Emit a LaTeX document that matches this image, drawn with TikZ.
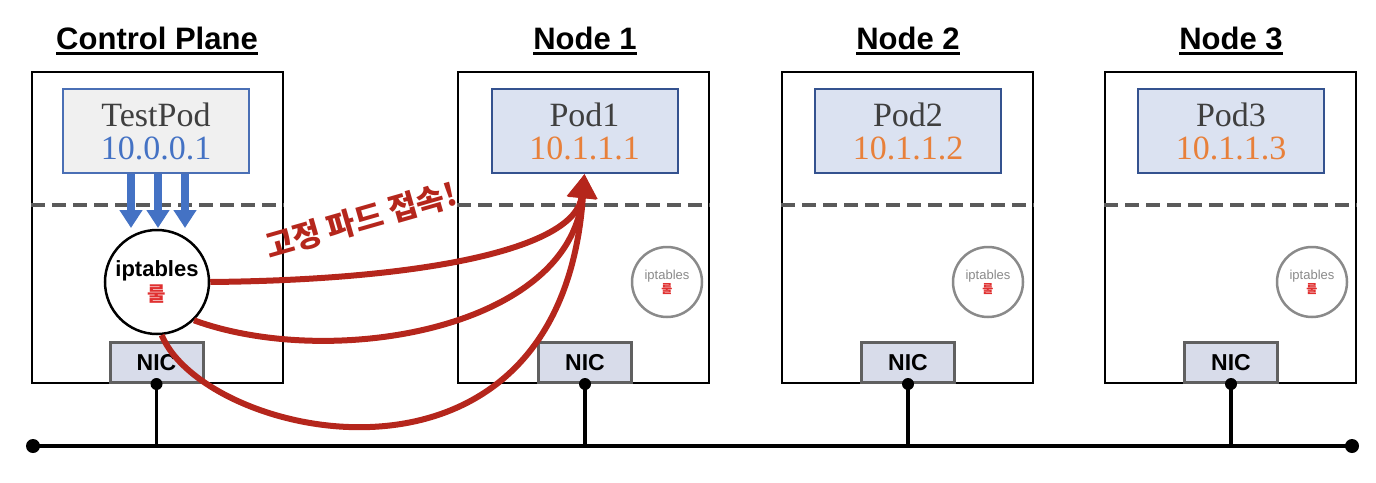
\documentclass[tikz,border=0pt]{standalone}
\usepackage{fontspec}
\setmainfont{Liberation Serif}
\setsansfont{Liberation Sans}
\newfontfamily\kr{Noto Sans CJK KR}
\usetikzlibrary{arrows.meta}
\definecolor{podtext}{HTML}{3F3F3F}
\definecolor{ipblue}{HTML}{4472C4}
\definecolor{iporange}{HTML}{E8803A}
\definecolor{tpborder}{HTML}{4A6FB5}
\definecolor{tpfill}{HTML}{F0F0F0}
\definecolor{podborder}{HTML}{34528F}
\definecolor{podfill}{HTML}{DBE2F1}
\definecolor{dashgray}{HTML}{5A5A5A}
\definecolor{nicfill}{HTML}{D8DCEA}
\definecolor{nicborder}{HTML}{606060}
\definecolor{arrowred}{HTML}{B5261C}
\definecolor{rulered}{HTML}{E03030}
\definecolor{iptgray}{HTML}{8A8A8A}
\begin{document}
\begin{tikzpicture}[x=1pt,y=-1pt,
  hostbox/.style={draw=black,line width=2pt,minimum width=251pt,minimum height=311pt,inner sep=0pt},
  podbox/.style={draw=#1,line width=2pt,minimum width=186pt,minimum height=84pt,align=center,inner sep=0pt,font=\fontsize{34}{33}\selectfont,text=podtext},
  nicbox/.style={draw=nicborder,line width=3pt,fill=nicfill,minimum width=93pt,minimum height=40pt,inner sep=0pt,font=\sffamily\bfseries\fontsize{23}{23}\selectfont},
  title/.style={inner sep=0pt,font=\sffamily\bfseries\fontsize{31}{31}\selectfont},
  uline/.style={line width=2.5pt},
  dashline/.style={draw=dashgray,line width=4pt,dash pattern=on 14pt off 7pt},
  bigipt/.style={circle,draw=black,line width=2.5pt,fill=white,minimum size=104pt,inner sep=0pt,align=center},
  smallipt/.style={circle,draw=iptgray,line width=2.5pt,fill=white,minimum size=70pt,inner sep=0pt,align=center},
  bluearrow/.style={draw=ipblue,line width=8pt,-{Triangle[length=18pt,width=22pt]}},
  redarrow/.style={draw=arrowred,line width=6pt,-{Triangle[length=24pt,width=28pt]}},
  bus/.style={line width=3.5pt,draw=black}
]
\useasboundingbox (0,0) rectangle (1376,482);

% host boxes
\node[hostbox] (cp) at (157.5,227.5) {};
\node[hostbox] (n1) at (583.5,227.5) {};
\node[hostbox] (n2) at (907.5,227.5) {};
\node[hostbox] (n3) at (1230.5,227.5) {};

% titles
\node[title,anchor=base] (t0) at (157,49) {Control Plane};
\node[title,anchor=base] (t1) at (585,49) {Node 1};
\node[title,anchor=base] (t2) at (908,49) {Node 2};
\node[title,anchor=base] (t3) at (1231,49) {Node 3};
\foreach \t in {t0,t1,t2,t3}
  \draw[uline] ([yshift=-4.5pt]\t.base west) -- ([yshift=-4.5pt]\t.base east);

% dashed separators
\foreach \b in {cp,n1,n2,n3}
  \draw[dashline] (\b.west |- 0,205) -- (\b.east |- 0,205);

% pods
\node[podbox=tpborder,fill=tpfill] (p0) at (156,131) {TestPod\\{\color{ipblue}10.0.0.1}};
\node[podbox=podborder,fill=podfill] (p1) at (584.5,131) {Pod1\\{\color{iporange}10.1.1.1}};
\node[podbox=podborder,fill=podfill] (p2) at (908,131) {Pod2\\{\color{iporange}10.1.1.2}};
\node[podbox=podborder,fill=podfill] (p3) at (1231,131) {Pod3\\{\color{iporange}10.1.1.3}};

% NICs
\node[nicbox] (nic0) at (156.5,362.5) {NIC};
\node[nicbox] (nic1) at (585,362.5) {NIC};
\node[nicbox] (nic2) at (908,362.5) {NIC};
\node[nicbox] (nic3) at (1231,362.5) {NIC};

% iptables circles
\node[bigipt] (ipt0) at (157,282) {{\sffamily\bfseries\fontsize{22}{24}\selectfont iptables}\\[2pt]{\kr\bfseries\fontsize{20}{20}\selectfont\color{rulered}룰}};
\node[smallipt] (ipt1) at (667,282) {{\sffamily\fontsize{13}{14}\selectfont\color{iptgray}iptables}\\{\kr\bfseries\fontsize{12}{12}\selectfont\color{rulered}룰}};
\node[smallipt] (ipt2) at (988,282) {{\sffamily\fontsize{13}{14}\selectfont\color{iptgray}iptables}\\{\kr\bfseries\fontsize{12}{12}\selectfont\color{rulered}룰}};
\node[smallipt] (ipt3) at (1312,282) {{\sffamily\fontsize{13}{14}\selectfont\color{iptgray}iptables}\\{\kr\bfseries\fontsize{12}{12}\selectfont\color{rulered}룰}};

% blue arrows TestPod -> iptables
\coordinate (a1) at (131,228);
\coordinate (a2) at (158,228);
\coordinate (a3) at (185,228);
\foreach \a in {a1,a2,a3}
  \draw[bluearrow] (\a |- p0.south) -- (\a);

% bus
\coordinate (busL) at (33,446);
\coordinate (busR) at (1352,446);
\draw[bus] (busL) -- (busR);
\fill (busL) circle (7);
\fill (busR) circle (7);
\foreach \n in {nic0,nic1,nic2,nic3}{
  \draw[bus] (\n.south) -- (\n.south |- busL);
  \fill (\n.south) circle (6);
}

% red arrows
\draw[redarrow] (ipt0.east) .. controls (420,280) and (575,250) .. (p1.south);
\draw[redarrow] (ipt0.-46) .. controls (330,370) and (570,330) .. (p1.south);
\draw[redarrow] (ipt0.-85) .. controls (205,440) and (560,520) .. (p1.south);

% label
\node[text=arrowred,font=\kr\bfseries\fontsize{31}{31}\selectfont,rotate=16,inner sep=0pt] (lbl) at (361,220) {고정 파드 접속!};
\end{tikzpicture}
\end{document}
